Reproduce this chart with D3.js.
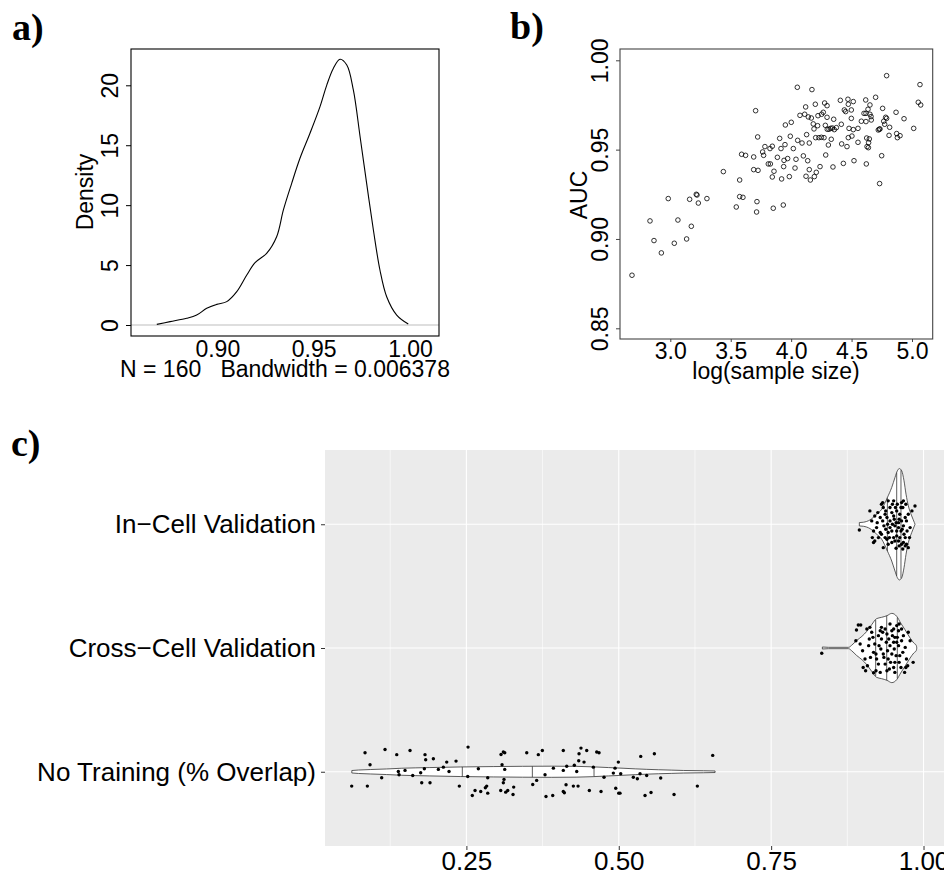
<!DOCTYPE html>
<html lang="en">
<head>
<meta charset="UTF-8">
<title>AUC figure</title>
<script src="https://d3js.org/d3.v7.min.js"></script>
<style>
  body { margin: 0; background: #fff; }
  svg { display: block; }
  .rtext { font-family: "Liberation Sans", Arial, sans-serif; }
  .tag { font-family: "Liberation Serif", "Times New Roman", serif; font-weight: bold; font-size: 38px; }
</style>
</head>
<body>
<svg id="fig" width="944" height="873"></svg>
<script>
// ---- panel a: density of AUC ----
var densX = [0.8686,0.8755,0.8841,0.8893,0.8945,0.8997,0.9049,0.9101,0.9153,0.9196,0.9256,0.9308,0.9343,0.9386,0.9429,0.9481,0.9533,0.9568,0.9602,0.9637,0.9672,0.9706,0.9741,0.9775,0.9810,0.9844,0.9879,0.9931,0.9991];
var densY = [0.05,0.28,0.56,0.83,1.39,1.72,1.95,2.78,4.17,5.20,5.98,7.37,9.60,11.82,13.91,16.00,18.22,20.02,21.41,22.17,21.69,19.61,15.71,11.82,7.93,4.59,2.36,0.83,0.08];
var aTicksX = [0.90, 0.95, 1.00];
var aTicksY = [0, 5, 10, 15, 20];

// ---- panel b: AUC vs log(sample size) ----
var aucLogSize = [2.683,2.832,2.865,2.926,2.983,3.033,3.063,3.135,3.160,3.174,3.215,3.221,3.232,3.303,3.439,3.546,3.574,3.574,3.601,3.590,3.623,3.690,3.690,3.706,3.723,3.726,3.717,3.714,3.764,3.772,3.783,3.811,3.828,3.825,3.844,3.844,3.858,3.852,3.886,3.905,3.916,3.921,3.938,3.935,3.941,3.949,3.952,3.971,3.985,3.993,4.001,4.018,4.032,4.040,4.051,4.054,4.073,4.090,4.101,4.112,4.120,4.123,4.128,4.137,4.142,4.150,4.159,4.172,4.167,4.183,4.189,4.192,4.200,4.203,4.208,4.219,4.222,4.230,4.239,4.250,4.252,4.266,4.277,4.283,4.286,4.297,4.297,4.299,4.308,4.313,4.327,4.332,4.341,4.346,4.352,4.357,4.374,4.407,4.415,4.418,4.432,4.440,4.451,4.462,4.470,4.473,4.473,4.479,4.498,4.498,4.503,4.514,4.514,4.520,4.553,4.553,4.581,4.603,4.617,4.619,4.619,4.622,4.625,4.628,4.636,4.639,4.647,4.652,4.652,4.661,4.663,4.641,4.699,4.721,4.730,4.732,4.749,4.757,4.766,4.774,4.782,4.790,4.790,4.810,4.815,4.868,4.873,4.879,4.901,4.934,5.014,5.052,5.066,5.072,4.735,4.272,4.150];
var aucValue = [0.8797,0.9101,0.8991,0.8922,0.9226,0.8976,0.9106,0.9000,0.9222,0.9071,0.9250,0.9246,0.9201,0.9226,0.9377,0.9179,0.9330,0.9237,0.9233,0.9474,0.9468,0.9459,0.9388,0.9718,0.9571,0.9384,0.9209,0.9151,0.9487,0.9468,0.9517,0.9420,0.9420,0.9506,0.9347,0.9519,0.9379,0.9172,0.9457,0.9563,0.9506,0.9336,0.9405,0.9190,0.9440,0.9528,0.9638,0.9450,0.9349,0.9575,0.9653,0.9506,0.9397,0.9446,0.9849,0.9552,0.9692,0.9537,0.9465,0.9698,0.9739,0.9351,0.9584,0.9438,0.9683,0.9388,0.9330,0.9836,0.9677,0.9644,0.9616,0.9349,0.9754,0.9567,0.9373,0.9634,0.9690,0.9567,0.9405,0.9569,0.9698,0.9709,0.9761,0.9636,0.9470,0.9681,0.9746,0.9614,0.9526,0.9614,0.9619,0.9558,0.9621,0.9403,0.9670,0.9612,0.9623,0.9776,0.9642,0.9532,0.9423,0.9722,0.9713,0.9517,0.9782,0.9754,0.9567,0.9619,0.9722,0.9675,0.9576,0.9769,0.9612,0.9438,0.9619,0.9541,0.9659,0.9703,0.9778,0.9703,0.9657,0.9420,0.9565,0.9517,0.9726,0.9511,0.9560,0.9750,0.9698,0.9685,0.9666,0.9539,0.9793,0.9610,0.9614,0.9310,0.9466,0.9731,0.9659,0.9642,0.9681,0.9914,0.9675,0.9580,0.9625,0.9709,0.9590,0.9567,0.9578,0.9673,0.9619,0.9765,0.9864,0.9750,0.9616,0.9567,0.9537];
var bTicksX = [3.0, 3.5, 4.0, 4.5, 5.0];
var bTicksY = [0.85, 0.90, 0.95, 1.00];

// ---- panel c: violins ----
var categories = ["In\u2212Cell Validation", "Cross\u2212Cell Validation", "No Training (% Overlap)"];
var cMajor = [0.25, 0.50, 0.75, 1.00];
var cMinor = [0.125, 0.375, 0.625, 0.875];

// violin outlines: position and relative density (1 = widest violin)
var inCellShapeX = [0.8947,0.9013,0.9122,0.9232,0.9314,0.9407,0.9478,0.9532,0.9571,0.9603,0.9642,0.9680,0.9713,0.9751,0.9806,0.9850,0.9861];
var inCellShapeD = [0.03,0.036,0.078,0.18,0.27,0.48,0.66,0.84,0.96,1.0,0.96,0.78,0.54,0.33,0.15,0.03,0.0];
var crossShapeX = [0.834,0.844,0.877,0.882,0.890,0.899,0.907,0.915,0.923,0.931,0.940,0.948,0.956,0.9625,0.9696,0.978,0.984,0.988,0.989];
var crossShapeD = [0.018,0.012,0.012,0.048,0.132,0.21,0.30,0.42,0.527,0.55,0.58,0.622,0.569,0.449,0.329,0.18,0.09,0.048,0.0];
var noTrainShapeX = [0.062,0.073,0.093,0.119,0.144,0.19,0.24,0.294,0.39,0.43,0.458,0.483,0.507,0.527,0.546,0.565,0.587,0.606,0.639,0.658];
var noTrainShapeD = [0.022,0.031,0.04,0.05,0.063,0.075,0.086,0.093,0.1,0.097,0.088,0.075,0.063,0.052,0.043,0.036,0.029,0.023,0.018,0.014];
var inCellQuant = [0.9407, 0.956, 0.963];
var crossQuant = [0.9215, 0.9396, 0.957];
var noTrainQuant = [0.2433, 0.3582, 0.4594];

// jittered points: value and vertical jitter (category units, up is positive)
var inCellValues = [0.912,0.8947,0.916,0.918,0.920,0.924,0.929,0.931,0.934,0.933,0.937,0.938,0.940,0.942,0.945,0.948,0.949,0.951,0.952,0.953,0.955,0.956,0.957,0.959,0.960,0.961,0.963,0.964,0.964,0.966,0.967,0.968,0.970,0.971,0.972,0.973,0.975,0.945,0.942,0.940,0.948,0.951,0.953,0.956,0.959,0.964,0.970,0.975,0.978,0.977,0.986,0.981,0.967,0.956,0.951,0.937,0.931,0.926,0.923,0.918,0.915,0.934,0.942,0.961,0.967,0.972,0.963,0.954,0.945,0.941,0.935,0.949,0.959,0.965,0.970,0.929,0.920,0.925,0.933,0.938,0.944,0.948,0.960,0.966,0.955];
var inCellJitter = [0.108,-0.046,-0.108,-0.148,-0.135,0.013,-0.067,0.162,0.135,0.175,0.081,0.108,0.054,0.189,0.135,0.094,0.162,0.067,0.040,-0.013,0.013,0.108,0.162,-0.027,0.040,0.081,-0.054,0.175,0.027,0.135,-0.013,-0.081,0.054,0.162,-0.162,-0.054,0.081,-0.027,-0.067,-0.121,-0.148,-0.108,-0.135,-0.094,-0.135,-0.162,-0.175,-0.189,-0.027,-0.108,0.148,0.108,0.189,-0.054,0.189,-0.108,-0.081,-0.108,-0.027,-0.054,0.027,-0.189,-0.162,-0.108,-0.148,0.027,0.135,0.135,0.027,0.0,-0.013,0.0,0.013,-0.040,-0.108,0.054,0.067,0.094,0.027,-0.040,-0.108,-0.054,-0.175,-0.2,-0.194];
var crossValues = [0.833,0.890,0.893,0.897,0.889,0.896,0.900,0.904,0.908,0.907,0.912,0.915,0.911,0.910,0.917,0.918,0.920,0.923,0.926,0.922,0.929,0.931,0.933,0.931,0.930,0.934,0.937,0.940,0.942,0.941,0.939,0.937,0.945,0.948,0.949,0.951,0.952,0.948,0.946,0.951,0.953,0.956,0.957,0.959,0.955,0.960,0.963,0.964,0.967,0.970,0.966,0.972,0.974,0.969,0.975,0.978,0.983,0.971,0.901,0.905,0.926,0.943,0.953,0.960,0.927,0.935,0.944,0.922,0.913,0.918,0.929,0.951,0.956,0.961,0.945,0.940,0.964,0.953,0.959];
var crossJitter = [-0.043,0.146,0.186,0.186,0.059,0.032,-0.022,-0.089,-0.143,0.154,0.167,0.127,0.073,0.019,0.086,-0.035,0.032,-0.089,-0.130,-0.184,-0.197,0.167,0.127,0.073,-0.008,-0.049,-0.130,-0.184,-0.089,-0.022,0.046,0.154,0.194,0.140,0.100,0.046,-0.008,-0.049,-0.116,-0.157,-0.197,0.181,0.086,0.019,-0.062,-0.116,-0.157,0.154,0.100,0.005,-0.035,-0.089,-0.143,-0.197,0.127,0.059,-0.116,-0.157,-0.157,-0.184,0.100,0.073,-0.116,0.194,0.019,-0.076,-0.170,-0.049,-0.076,-0.2,0.140,0.154,0.046,-0.062,0.019,0.113,0.059,0.086,0.140];
var noTrainValues = [0.0837,0.1165,0.1575,0.1357,0.1821,0.1958,0.1832,0.2177,0.2330,0.0919,0.2122,0.1810,0.1493,0.1383,0.1395,0.1750,0.2040,0.2215,0.1619,0.1110,0.2527,0.2696,0.2850,0.3106,0.3068,0.3129,0.3085,0.3129,0.3117,0.3106,0.3276,0.0618,0.0875,0.1767,0.1903,0.2384,0.2642,0.2735,0.2833,0.2811,0.2850,0.2597,0.3063,0.3145,0.3178,0.3265,0.2522,0.3490,0.3680,0.3746,0.4090,0.4380,0.4348,0.4474,0.4638,0.4676,0.4343,0.4430,0.4271,0.4146,0.3927,0.4090,0.4310,0.4583,0.4993,0.5360,0.5584,0.6541,0.3790,0.3653,0.3588,0.4135,0.4255,0.4332,0.4090,0.4107,0.4517,0.4709,0.4939,0.4911,0.5032,0.4758,0.4950,0.4999,0.5020,0.5239,0.5305,0.5349,0.5458,0.5688,0.5431,0.5529,0.5907,0.6289,0.3806,0.3916];
var noTrainJitter = [0.154,0.18,0.172,0.138,0.138,0.105,0.097,0.078,0.086,0.057,0.037,0.024,0.011,0.002,-0.024,-0.008,0.019,0.002,-0.03,-0.049,0.199,0.024,-0.049,0.159,0.14,0.154,0.057,0.019,-0.062,-0.089,-0.124,-0.116,-0.116,-0.089,-0.089,-0.116,-0.151,-0.159,-0.116,-0.129,-0.173,-0.192,-0.151,-0.165,-0.151,-0.184,-0.038,0.154,0.138,0.172,0.172,0.191,0.146,0.172,0.159,0.154,0.089,0.078,0.053,0.045,0.029,0.011,0.002,0.037,0.078,0.124,0.146,0.132,-0.024,-0.07,-0.103,-0.105,-0.116,-0.116,-0.159,-0.17,-0.151,-0.159,0.029,-0.011,-0.016,-0.044,-0.133,-0.173,-0.173,-0.044,-0.057,-0.016,-0.03,-0.051,-0.192,-0.168,-0.184,-0.116,-0.2,-0.192];

var svg = d3.select("#fig");
svg.append("rect").attr("width", 944).attr("height", 873).attr("fill", "#fff");

// rotate R style y tick labels
function rotateLabels(g, offset) {
    g.selectAll(".tick text")
        .attr("x", 0).attr("dy", null)
        .attr("text-anchor", "middle")
        .attr("transform", "translate(" + (-offset) + ",0) rotate(-90)");
}

// ================= panel a =================
var ax = d3.scaleLinear().domain([0.90, 1.00]).range([217.3, 410]);
var ay = d3.scaleLinear().domain([0, 20]).range([325, 85.3]);
var gA = svg.append("g").attr("class", "rtext");

gA.append("line")
    .attr("x1", 131).attr("x2", 439)
    .attr("y1", ay(0)).attr("y2", ay(0))
    .attr("stroke", "#bebebe").attr("stroke-width", 1.2);

gA.append("path")
    .datum(d3.zip(densX, densY))
    .attr("d", d3.line().x(d => ax(d[0])).y(d => ay(d[1])).curve(d3.curveCatmullRom))
    .attr("fill", "none").attr("stroke", "#000").attr("stroke-width", 1.1);

gA.append("rect").attr("x", 131).attr("y", 49).attr("width", 308).attr("height", 287)
    .attr("fill", "none").attr("stroke", "#000").attr("stroke-width", 1.1);

var aYAxis = gA.append("g").attr("transform", "translate(131,0)")
    .call(d3.axisLeft(ay).tickValues(aTicksY).tickSize(5).tickFormat(d3.format("d")));
aYAxis.select(".domain").remove();
aYAxis.attr("font-size", 23).attr("font-family", null);
rotateLabels(aYAxis, 13);

var aXAxis = gA.append("g").attr("transform", "translate(0,336)")
    .call(d3.axisBottom(ax).tickValues(aTicksX).tickSize(0).tickFormat(d3.format(".2f")));
aXAxis.select(".domain").remove();
aXAxis.attr("font-size", 23).attr("font-family", null);
aXAxis.selectAll(".tick text").attr("y", 21).attr("dy", null);

gA.append("text").attr("transform", "translate(93,192) rotate(-90)")
    .attr("text-anchor", "middle").attr("font-size", 23).text("Density");
gA.append("text").attr("x", 285).attr("y", 377).attr("text-anchor", "middle")
    .attr("font-size", 23).style("white-space", "pre").text("N = 160   Bandwidth = 0.006378");

svg.append("text").attr("class", "tag").attr("x", 12).attr("y", 40).text("a)");

// ================= panel b =================
var bx = d3.scaleLinear().domain([3.0, 5.0]).range([670.3, 912]);
var by = d3.scaleLinear().domain([0.85, 1.00]).range([328.3, 60.3]);
var gB = svg.append("g").attr("class", "rtext");

gB.append("g").selectAll("circle")
    .data(d3.zip(aucLogSize, aucValue))
    .enter().append("circle")
    .attr("cx", d => bx(d[0])).attr("cy", d => by(d[1])).attr("r", 2.3)
    .attr("fill", "none").attr("stroke", "#000").attr("stroke-width", 0.8);

gB.append("rect").attr("x", 620).attr("y", 49).attr("width", 312.7).attr("height", 290)
    .attr("fill", "none").attr("stroke", "#444").attr("stroke-width", 1.1);

var bYAxis = gB.append("g").attr("transform", "translate(620,0)")
    .call(d3.axisLeft(by).tickValues(bTicksY).tickSize(4).tickFormat(d3.format(".2f")));
bYAxis.select(".domain").remove();
bYAxis.attr("font-size", 23).attr("font-family", null);
bYAxis.selectAll(".tick line").attr("stroke", "#444");
rotateLabels(bYAxis, 12);

var bXAxis = gB.append("g").attr("transform", "translate(0,339)")
    .call(d3.axisBottom(bx).tickValues(bTicksX).tickSize(3).tickFormat(d3.format(".1f")));
bXAxis.select(".domain").remove();
bXAxis.attr("font-size", 23).attr("font-family", null);
bXAxis.selectAll(".tick line").attr("stroke", "#444");
bXAxis.selectAll(".tick text").attr("y", 20).attr("dy", null);

gB.append("text").attr("transform", "translate(587,195) rotate(-90)")
    .attr("text-anchor", "middle").attr("font-size", 23).text("AUC");
gB.append("text").attr("x", 776).attr("y", 379).attr("text-anchor", "middle")
    .attr("font-size", 23).text("log(sample size)");

svg.append("text").attr("class", "tag").attr("x", 510).attr("y", 38.5).text("b)");

// ================= panel c =================
var cx = d3.scaleLinear().domain([0.018, 1.04]).range([325, 947.9]);
var cy = d3.scalePoint().domain(categories).range([450, 846]).padding(0.6);
var vw = d3.scaleLinear().domain([0, 1]).range([0, 0.45 * cy.step()]);
var gC = svg.append("g").attr("class", "rtext");

gC.append("rect").attr("x", 325).attr("y", 450).attr("width", 947.9 - 325).attr("height", 396)
    .attr("fill", "#ebebeb");

gC.append("g").selectAll("line").data(cMinor).enter().append("line")
    .attr("x1", d => cx(d)).attr("x2", d => cx(d)).attr("y1", 450).attr("y2", 846)
    .attr("stroke", "#fff").attr("stroke-width", 0.6);
gC.append("g").selectAll("line").data(cMajor).enter().append("line")
    .attr("x1", d => cx(d)).attr("x2", d => cx(d)).attr("y1", 450).attr("y2", 846)
    .attr("stroke", "#fff").attr("stroke-width", 1.1);
gC.append("g").selectAll("line").data(categories).enter().append("line")
    .attr("x1", 325).attr("x2", 948).attr("y1", d => cy(d)).attr("y2", d => cy(d))
    .attr("stroke", "#fff").attr("stroke-width", 1.1);

var violins = [
    { cat: categories[0], sx: inCellShapeX, sd: inCellShapeD, q: inCellQuant, v: inCellValues, j: inCellJitter },
    { cat: categories[1], sx: crossShapeX, sd: crossShapeD, q: crossQuant, v: crossValues, j: crossJitter },
    { cat: categories[2], sx: noTrainShapeX, sd: noTrainShapeD, q: noTrainQuant, v: noTrainValues, j: noTrainJitter }
];

violins.forEach(function (vl) {
    var yc = cy(vl.cat);
    var area = d3.area()
        .x(d => cx(d[0]))
        .y0(d => yc - vw(d[1]))
        .y1(d => yc + vw(d[1]))
        .curve(d3.curveMonotoneX);
    gC.append("path").datum(d3.zip(vl.sx, vl.sd))
        .attr("d", area)
        .attr("fill", "#fff").attr("stroke", "#333").attr("stroke-width", 0.8);
    var dens = d3.scaleLinear().domain(vl.sx).range(vl.sd);
    gC.append("g").selectAll("line").data(vl.q).enter().append("line")
        .attr("x1", d => cx(d)).attr("x2", d => cx(d))
        .attr("y1", d => yc - vw(dens(d))).attr("y2", d => yc + vw(dens(d)))
        .attr("stroke", "#333").attr("stroke-width", 0.8);
    gC.append("g").selectAll("circle").data(d3.zip(vl.v, vl.j)).enter().append("circle")
        .attr("cx", d => cx(d[0]))
        .attr("cy", d => yc - d[1] * cy.step())
        .attr("r", 1.7).attr("fill", "#000");
});

var cYAxis = gC.append("g").attr("transform", "translate(325,0)")
    .call(d3.axisLeft(cy).tickSize(4).tickPadding(5));
cYAxis.select(".domain").remove();
cYAxis.attr("font-size", 26).attr("font-family", null);
cYAxis.selectAll(".tick line").attr("stroke", "#333");
cYAxis.selectAll(".tick text").attr("fill", "#000");

var cXAxis = gC.append("g").attr("transform", "translate(0,846)")
    .call(d3.axisBottom(cx).tickValues(cMajor).tickSize(4).tickFormat(d3.format(".2f")));
cXAxis.select(".domain").remove();
cXAxis.attr("font-size", 26).attr("font-family", null);
cXAxis.selectAll(".tick line").attr("stroke", "#333");
cXAxis.selectAll(".tick text").attr("y", 24).attr("dy", null).attr("fill", "#000");

svg.append("text").attr("class", "tag").attr("x", 11).attr("y", 456).text("c)");
</script>
</body>
</html>
